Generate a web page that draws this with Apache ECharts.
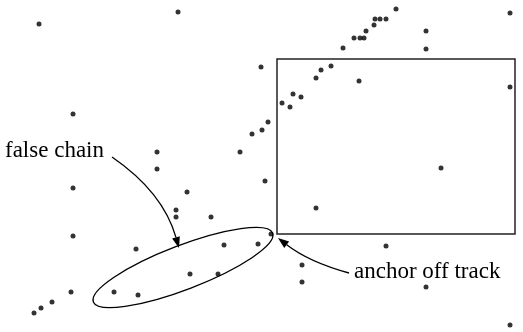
<!DOCTYPE html>
<html>
<head>
<meta charset="utf-8">
<script src="https://cdn.jsdelivr.net/npm/echarts@6/dist/echarts.min.js"></script>
<style>
  html, body { margin: 0; padding: 0; background: #fff; }
  #chart { width: 523px; height: 332px; }
</style>
</head>
<body>
<div id="chart"></div>
<script>
// 轨迹上的点 (x, y 向上)
const trackX = [34, 41, 52, 71, 240, 252, 262, 268, 282, 290, 293, 301, 316, 321, 331, 343, 354, 360, 364, 366, 374, 375, 380, 386, 396]
const trackY = [19, 24, 30, 40, 180, 198, 202, 210, 229, 225, 238, 235, 254, 262, 266, 284, 294, 294, 294, 301, 307, 313, 313, 313, 323]

// 假链
const chainX = [114, 138, 190, 218, 224, 258]
const chainY = [40, 37, 58, 58, 87, 88]

// 偏离轨迹的锚点
const anchorX = [271]
const anchorY = [98]

// 杂点
const clutterX = [39, 178, 261, 73, 157, 426, 426, 510, 359, 510, 157, 73, 187, 176, 176, 211, 73, 136, 265, 441, 316, 386, 302, 302, 426, 510]
const clutterY = [308, 320, 265, 218, 180, 301, 283, 319, 251, 245, 163, 144, 140, 122, 115, 115, 96, 83, 151, 164, 124, 86, 67, 50, 45, 7]

// 方框 (数据坐标)
const boxX = [277, 515]
const boxY = [98, 273]

const zip = (xs, ys) => xs.map((x, i) => [x, ys[i]])

const chart = echarts.init(document.getElementById('chart'))

const dotStyle = { color: '#000' }
const dotSize = 5

chart.setOption({
  animation: false,
  grid: { left: 0, right: 0, top: 0, bottom: 0 },
  xAxis: { type: 'value', min: 0, max: 523, show: false },
  yAxis: { type: 'value', min: 0, max: 332, show: false },
  series: [
    {
      type: 'scatter',
      symbolSize: dotSize,
      itemStyle: dotStyle,
      data: zip(trackX, trackY),
      markArea: {
        silent: true,
        itemStyle: { color: 'rgba(0,0,0,0)', borderColor: '#222', borderWidth: 1.5 },
        data: [[{ coord: [boxX[0], boxY[1]] }, { coord: [boxX[1], boxY[0]] }]]
      }
    },
    { type: 'scatter', symbolSize: dotSize, itemStyle: dotStyle, data: zip(chainX, chainY) },
    { type: 'scatter', symbolSize: dotSize, itemStyle: dotStyle, data: zip(anchorX, anchorY) },
    { type: 'scatter', symbolSize: dotSize, itemStyle: dotStyle, data: zip(clutterX, clutterY) }
  ]
})

// 注释：椭圆、箭头、文字
const px = p => chart.convertToPixel({ gridIndex: 0 }, p)

const arrow = (p0, c, p2) => {
  const a = px(p0), b = px(c), t = px(p2)
  const dx = t[0] - b[0], dy = t[1] - b[1]
  const len = Math.hypot(dx, dy)
  const ux = dx / len, uy = dy / len
  const L = 11, W = 8
  const bx = t[0] - ux * L, by = t[1] - uy * L
  return [
    {
      type: 'bezierCurve',
      shape: { x1: a[0], y1: a[1], cpx1: b[0], cpy1: b[1], x2: bx, y2: by },
      style: { stroke: '#000', lineWidth: 1.3, fill: null }
    },
    {
      type: 'polygon',
      shape: { points: [t, [bx - uy * W / 2, by + ux * W / 2], [bx + uy * W / 2, by - ux * W / 2]] },
      style: { fill: '#000' }
    }
  ]
}

const ellipseC = px([183, 64.5])
const labelFont = '23px "Liberation Serif", "DejaVu Serif", serif'
const falseLbl = px([5, 174])
const anchorLbl = px([354, 53])

chart.setOption({
  graphic: [
    {
      type: 'ellipse',
      x: ellipseC[0],
      y: ellipseC[1],
      rotation: 21 * Math.PI / 180,
      shape: { cx: 0, cy: 0, rx: 96, ry: 22 },
      style: { fill: null, stroke: '#000', lineWidth: 1.3 }
    },
    ...arrow([112, 175], [163, 140], [179, 84]),
    ...arrow([349, 59], [309, 70], [278, 94]),
    {
      type: 'text',
      x: falseLbl[0],
      y: falseLbl[1] - 7.5,
      style: { text: 'false chain', font: labelFont, fill: '#000', verticalAlign: 'middle' }
    },
    {
      type: 'text',
      x: anchorLbl[0],
      y: anchorLbl[1] - 7.5,
      style: { text: 'anchor off track', font: labelFont, fill: '#000', verticalAlign: 'middle' }
    }
  ]
})
</script>
</body>
</html>
